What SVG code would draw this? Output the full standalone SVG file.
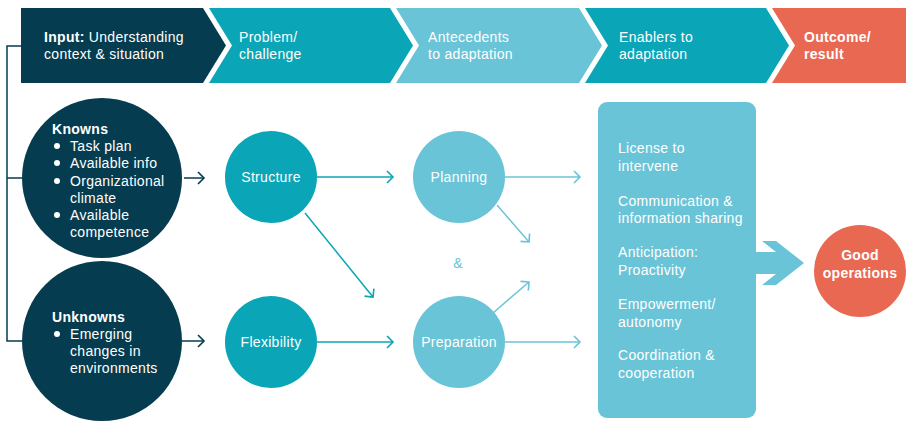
<svg xmlns="http://www.w3.org/2000/svg" width="906" height="421" viewBox="0 0 906 421">
  <style>
    text { font-family: "Liberation Sans", Arial, sans-serif; font-size: 14px; letter-spacing: 0.3px; fill: #ffffff; }
    .b { font-weight: bold; }
    .mid { text-anchor: middle; }
    .dark { fill: #053c4f; }
    .teal { fill: #0aa5b6; }
    .light { fill: #6ac4d7; }
    .coral { fill: #e86852; }
    .ln-dark { stroke: #053c4f; stroke-width: 1.5; fill: none; }
    .ln-teal { stroke: #0aa5b6; stroke-width: 1.5; fill: none; }
    .ln-light { stroke: #6ac4d7; stroke-width: 1.5; fill: none; }
  </style>
  <defs>
    <marker id="head-dark" markerUnits="userSpaceOnUse" markerWidth="12" markerHeight="14" refX="8" refY="7" orient="auto" viewBox="0 0 12 14">
      <path d="M2,1 L8,7 L2,13" fill="none" stroke="#053c4f" stroke-width="1.6"/>
    </marker>
    <marker id="head-teal" markerUnits="userSpaceOnUse" markerWidth="12" markerHeight="14" refX="8" refY="7" orient="auto" viewBox="0 0 12 14">
      <path d="M2,1 L8,7 L2,13" fill="none" stroke="#0aa5b6" stroke-width="1.6"/>
    </marker>
    <marker id="head-light" markerUnits="userSpaceOnUse" markerWidth="12" markerHeight="14" refX="8" refY="7" orient="auto" viewBox="0 0 12 14">
      <path d="M2,1 L8,7 L2,13" fill="none" stroke="#6ac4d7" stroke-width="1.6"/>
    </marker>
  </defs>

  <rect width="906" height="421" fill="#ffffff"/>

  <!-- Stage banner -->
  <g id="stage-input">
    <polygon class="dark" points="21,8 203,8 226,45.5 203,83 21,83"/>
    <text x="44" y="42"><tspan class="b">Input:</tspan> Understanding</text>
    <text x="44" y="59">context &amp; situation</text>
  </g>
  <g id="stage-problem">
    <polygon class="teal" points="209,8 390,8 413,45.5 390,83 209,83 232,45.5"/>
    <text x="239" y="42">Problem/</text>
    <text x="239" y="59">challenge</text>
  </g>
  <g id="stage-antecedents">
    <polygon class="light" points="396,8 579,8 602,45.5 579,83 396,83 419,45.5"/>
    <text x="428" y="42">Antecedents</text>
    <text x="428" y="59">to adaptation</text>
  </g>
  <g id="stage-enablers">
    <polygon class="teal" points="585,8 766,8 789,45.5 766,83 585,83 608,45.5"/>
    <text x="619" y="42">Enablers to</text>
    <text x="619" y="59">adaptation</text>
  </g>
  <g id="stage-outcome">
    <polygon class="coral" points="772,8 906,8 906,83 772,83 795,45.5"/>
    <text class="b" x="804" y="42">Outcome/</text>
    <text class="b" x="804" y="59">result</text>
  </g>

  <!-- Connectors -->
  <g id="connectors">
    <path class="ln-dark" d="M21,46 H7 V341 H22 M7,178 H22"/>
    <line class="ln-dark" x1="184" y1="178" x2="204" y2="178" marker-end="url(#head-dark)"/>
    <line class="ln-dark" x1="182" y1="341" x2="204" y2="341" marker-end="url(#head-dark)"/>
    <line class="ln-teal" x1="317" y1="177" x2="393" y2="177" marker-end="url(#head-teal)"/>
    <line class="ln-teal" x1="317" y1="342" x2="393" y2="342" marker-end="url(#head-teal)"/>
    <line class="ln-teal" x1="305" y1="213" x2="373" y2="297" marker-end="url(#head-teal)"/>
    <line class="ln-light" x1="505" y1="177" x2="580" y2="177" marker-end="url(#head-light)"/>
    <line class="ln-light" x1="505" y1="342" x2="580" y2="342" marker-end="url(#head-light)"/>
    <line class="ln-light" x1="497" y1="205" x2="529" y2="242" marker-end="url(#head-light)"/>
    <line class="ln-light" x1="493" y1="313" x2="529" y2="282" marker-end="url(#head-light)"/>
    <polygon class="light" points="756,252 776,252 762,241 776,241 804,263 776,285 762,285 776,274 756,274"/>
  </g>

  <!-- Inputs -->
  <g id="knowns">
    <circle class="dark" cx="102" cy="178" r="80"/>
    <text class="b" x="52" y="134">Knowns</text>
    <circle cx="57" cy="146" r="3" fill="#fff"/>
    <text x="70" y="151">Task plan</text>
    <circle cx="57" cy="163" r="3" fill="#fff"/>
    <text x="70" y="168">Available info</text>
    <circle cx="57" cy="181" r="3" fill="#fff"/>
    <text x="70" y="186">Organizational</text>
    <text x="70" y="203">climate</text>
    <circle cx="57" cy="215" r="3" fill="#fff"/>
    <text x="70" y="220">Available</text>
    <text x="70" y="237">competence</text>
  </g>
  <g id="unknowns">
    <circle class="dark" cx="102" cy="341" r="80"/>
    <text class="b" x="52" y="322">Unknowns</text>
    <circle cx="57" cy="334" r="3" fill="#fff"/>
    <text x="70" y="339">Emerging</text>
    <text x="70" y="356">changes in</text>
    <text x="70" y="373">environments</text>
  </g>

  <!-- Problem -->
  <g id="structure">
    <circle class="teal" cx="271" cy="177" r="46"/>
    <text class="mid" x="271" y="182">Structure</text>
  </g>
  <g id="flexibility">
    <circle class="teal" cx="271" cy="342" r="46"/>
    <text class="mid" x="271" y="347">Flexibility</text>
  </g>

  <!-- Antecedents -->
  <g id="planning">
    <circle class="light" cx="459" cy="177" r="46"/>
    <text class="mid" x="459" y="182">Planning</text>
  </g>
  <g id="preparation">
    <circle class="light" cx="459" cy="342" r="46"/>
    <text class="mid" x="459" y="347">Preparation</text>
  </g>
  <g id="and-label">
    <text class="mid" x="458" y="268" style="fill:#6ac4d7">&amp;</text>
  </g>

  <!-- Enablers -->
  <g id="enablers">
    <rect class="light" x="598" y="102" width="158" height="316" rx="9"/>
    <text x="618" y="153">License to</text>
    <text x="618" y="171">intervene</text>
    <text x="618" y="206">Communication &amp;</text>
    <text x="618" y="223">information sharing</text>
    <text x="618" y="257">Anticipation:</text>
    <text x="618" y="275">Proactivity</text>
    <text x="618" y="309">Empowerment/</text>
    <text x="618" y="327">autonomy</text>
    <text x="618" y="360">Coordination &amp;</text>
    <text x="618" y="378">cooperation</text>
  </g>

  <!-- Outcome -->
  <g id="good-operations">
    <circle class="coral" cx="860" cy="271" r="46"/>
    <text class="b mid" x="860" y="260">Good</text>
    <text class="b mid" x="860" y="278">operations</text>
  </g>
</svg>
